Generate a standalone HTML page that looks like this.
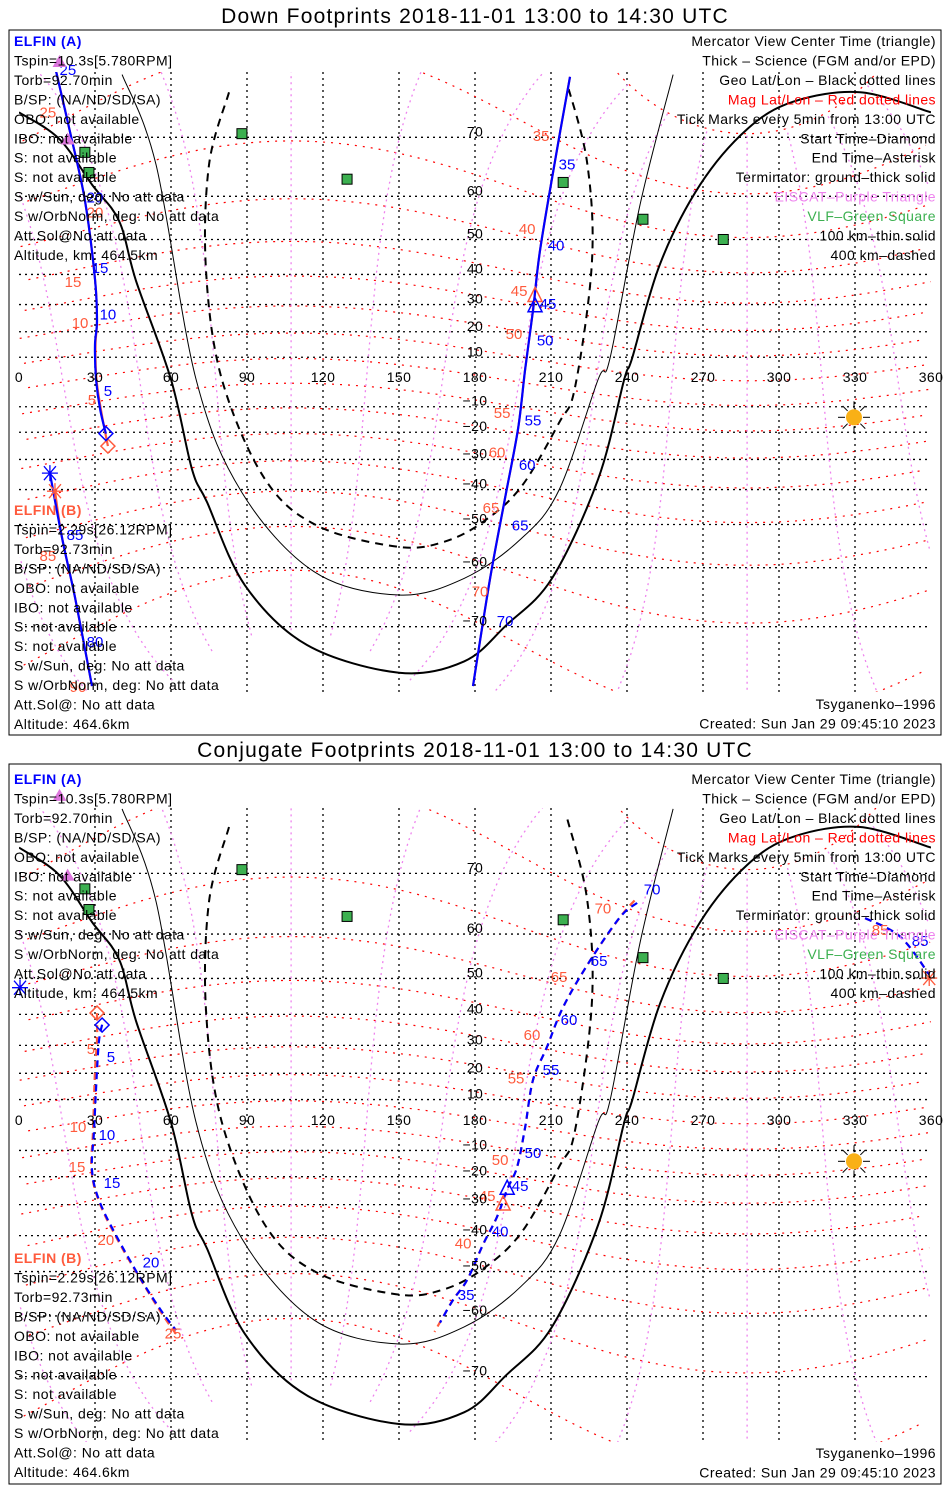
<!DOCTYPE html>
<html><head><meta charset="utf-8"><title>ELFIN Footprints</title>
<style>
html,body{margin:0;padding:0;background:#fff;}
svg{display:block;font-family:"Liberation Sans",sans-serif;}
.info{font-size:14px;letter-spacing:0.45px;}
</style></head>
<body>
<svg id="chart" width="950" height="1500" viewBox="0 0 950 1500" xmlns="http://www.w3.org/2000/svg">
<rect x="0" y="0" width="950" height="1500" fill="#fff"/>
<defs>
<clipPath id="clip0"><rect x="19" y="72" width="912" height="620"/></clipPath>
<clipPath id="clip1"><rect x="19" y="808" width="912" height="634"/></clipPath>
</defs>
<g id="panel0"></g>
<g id="panel1"></g>
</svg>
<script>
// ---------------- data (lon, lat in degrees) ----------------
const lonTicks = [0,30,60,90,120,150,180,210,240,270,300,330,360];
const latTicks = [70,60,50,40,30,20,10,-10,-20,-30,-40,-50,-60,-70];
const termThick = [[0,73.2],[15.8,69.8],[28.8,62.3],[39.5,54.6],[46.2,38],[60,1],[68.3,-33.4],[74.2,-43.8],[89.2,-63.4],[113.7,-72.4],[150,-75.5],[175.7,-74.3],[192.3,-69.8],[210.4,-62.1],[228.6,-36.7],[238.9,1],[242,9.6],[253.1,43.3],[268.9,62.3],[287.4,71.1],[305.6,74.4],[332,75.4],[360,73.2]];
const term100 = [[40.7,77.1],[54.1,65.8],[69.9,1],[88,-40.9],[116.5,-60.8],[150,-65.1],[175.7,-62.1],[198.2,-53.6],[213.2,-40.1],[228.6,1],[233.3,9.6],[245.2,58.4],[258.2,77.1]];
const term400 = [[82.9,75.4],[75,65.8],[73.8,41.3],[80.1,1],[97.1,-36.7],[118,-50.4],[150,-55.5],[167.8,-54.3],[183.2,-49.3],[198.2,-39.2],[213.2,-16.3],[219.5,-2],[226.2,44.1],[224.2,66.3],[216.3,76.3]];
const vlfStations = [[88,70.5],[26,67.8],[27.6,64.5],[129.5,63.3],[214.8,62.7],[246.3,55],[278,50]];
const eiscatSites = [[19.2,69.7],[16,78.2]];
const subsolar = [329.6,-14.2];

// Down footprints
const downA1 = [[14.2,77.8],[20.1,70.8],[26,59.2],[30,38.5],[30.8,24.2],[30,15.1],[30.4,1.2],[32,-10.9],[34.3,-20.5]];
const downA2 = [[217.5,76.9],[211.6,66.5],[205.7,47.2],[202.9,27.9],[199.8,5.3],[197,-18.6],[191.9,-42.5],[186,-62],[179.2,-76.8]];
const downA3 = [[28.8,-76.8],[22.1,-65.5],[17,-53.4],[12.2,-34.6]];
const downB1 = [[14,78],[20.1,70.8],[26,59.2],[30,38.5],[30.8,24.2],[30.2,15],[30.6,1],[32.5,-12],[35.1,-25.2]];
const downB2 = [[217.5,76.9],[211.6,66.5],[205.7,47.2],[202.9,27.9],[199.8,5.3],[197,-18.6],[191.9,-42.5],[186,-62],[179.2,-76.8]];
const downB3 = [[28.8,-76.8],[22.1,-65.5],[17,-53.4],[14.2,-40.5]];
const downLabelsA = [["25",19.3,77.5],["20",30,59.8],["15",32,42],["10",35.1,26.5],["5",35.1,-3.6],["35",216.3,65.9],["40",212,48.4],["45",208.8,30.2],["50",207.7,16.7],["55",202.9,-15.5],["60",200.6,-32],["65",197.8,-50.3],["70",191.9,-69.2],["80",30,-72],["85",22.1,-52.7]];
const downLabelsB = [["25",11.4,73.2],["20",30,56.5],["15",21.3,37.6],["10",24.1,23.3],["5",28.8,-7.2],["35",206.1,70.2],["40",200.6,52.7],["45",197.4,34.6],["50",195.4,19.2],["55",190.7,-12.4],["60",188.7,-27.5],["65",186.3,-45.5],["70",182,-64.5],["85",11.4,-57.5],["90",23.3,-76.9]];
const downMarkA = {start:[34.3,-20.5], end:[12.2,-34.7], center:[203.7,29.2]};
const downMarkB = {start:[35.1,-25.2], end:[14.2,-40.5], center:[203.7,32.8]};

// Conjugate footprints
const conjA1 = [[32.8,36.8],[31.6,31.8],[30.8,21.2],[29.6,-2.4],[28.8,-17.5],[31.6,-28.5],[38.3,-39.9],[48.6,-52.4],[56.5,-59.2],[62,-62.7]];
const conjA2 = [[244,65.6],[237.3,63.2],[225.4,54.3],[214.8,42.2],[208.4,29.4],[202.9,17.5],[199.8,-0.8],[196.6,-16.4],[192.7,-24.6],[188.7,-34.1],[183.2,-42.6],[176.9,-52.1],[171.3,-56.7],[166.2,-61.3]];
const conjA3 = [[334,63],[347.8,59.5],[359.3,51]];
const conjB1 = [[30.8,40.4],[30.8,31.8],[30,21],[29.2,-2.4],[28.6,-17.5],[31.4,-28.5],[38,-40],[48.4,-52.4],[57,-60],[63,-64]];
const conjB2 = [[243,66],[237.3,63.2],[225.4,54.3],[214.8,42.2],[208.4,29.4],[202.9,17.5],[199.8,-0.8],[196.6,-16.4],[192.7,-24.6],[188.7,-34.1],[183.2,-42.6],[176.9,-52.1],[171.3,-56.7],[164,-63]];
const conjB3 = [[334,63],[347.8,59.5],[359.3,51]];
const conjLabelsA = [["5",36.3,25.9],["10",34.7,-4],["15",36.7,-22.3],["20",52.1,-47.6],["35",176.5,-55.6],["40",189.9,-38.8],["45",197.8,-23.4],["50",202.9,-11],["55",210,21.2],["60",217.1,38.3],["65",229,54.2],["70",249.9,67.7],["85",355.7,58.6]];
const conjLabelsB = [["5",28.4,28.8],["10",23.3,-0.8],["15",22.9,-16.4],["20",34.3,-41.3],["25",60.8,-63.3],["40",175.3,-42.3],["45",184.8,-27],["50",189.9,-13.7],["55",196.2,18],["60",202.5,33.5],["65",213.2,50.4],["70",230.5,64.7],["85",339.9,60.8]];
const conjMarkA = {start:[32.8,36.7], end:[0.4,47.6], center:[192.7,-24.6]};
const conjMarkB = {start:[30.8,40.4], end:[359.3,50.1], center:[191.1,-30.1]};

const leftA = ["Tspin=10.3s[5.780RPM]","Torb=92.70min","B/SP: (NA/ND/SD/SA)","OBO: not available","IBO: not available","S: not available","S: not available","S w/Sun, deg: No att data","S w/OrbNorm, deg: No att data","Att.Sol@No att data","Altitude, km: 464.5km"];
const leftB = ["Tspin=2.29s[26.12RPM]","Torb=92.73min","B/SP: (NA/ND/SD/SA)","OBO: not available","IBO: not available","S: not available","S: not available","S w/Sun, deg: No att data","S w/OrbNorm, deg: No att data","Att.Sol@: No att data","Altitude: 464.6km"];
const legendLines = [["Mercator View Center Time (triangle)","#000"],["Thick \u2013 Science (FGM and/or EPD)","#000"],["Geo Lat/Lon \u2013 Black dotted lines","#000"],["Mag Lat/Lon \u2013 Red dotted lines","#ff0000"],["Tick Marks every 5min from 13:00 UTC","#000"],["Start Time\u2013Diamond","#000"],["End Time\u2013Asterisk","#000"],["Terminator: ground\u2013thick solid","#000"],["EISCAT\u2013Purple Triangle","#ee82ee"],["VLF\u2013Green Square","#3cb050"],["100 km\u2013thin solid","#000"],["400 km\u2013dashed","#000"]];

// ---------------- rendering ----------------
const NS = "http://www.w3.org/2000/svg";
const BLUE = "#0000ff", RED = "#ff5a3c";
function mk(tag, attrs, parent){ const e=document.createElementNS(NS,tag); for(const k in attrs) e.setAttribute(k,attrs[k]); parent.appendChild(e); return e; }

const panelCfg = [
  {g:"panel0", title:"Down Footprints 2018-11-01 13:00 to 14:30 UTC", titleY:23, eq:382, R:141, top:72, bot:692, clip:"clip0", box:[9,30,932,705], textTop:41, bTop:510, bottomY:704,
   tracks:[[downB1,RED,false],[downB2,RED,false],[downB3,RED,false],[downA1,BLUE,false],[downA2,BLUE,false],[downA3,BLUE,false]], labA:downLabelsA, labB:downLabelsB, mA:downMarkA, mB:downMarkB},
  {g:"panel1", title:"Conjugate Footprints 2018-11-01 13:00 to 14:30 UTC", titleY:757, eq:1125, R:145, top:808, bot:1442, clip:"clip1", box:[9,764,932,720], textTop:779, bTop:1258, bottomY:1453,
   tracks:[[conjB1,RED,true],[conjB2,RED,true],[conjB3,RED,true],[conjA1,BLUE,true],[conjA2,BLUE,true],[conjA3,BLUE,true]], labA:conjLabelsA, labB:conjLabelsB, mA:conjMarkA, mB:conjMarkB}
];

function magToGeo(mlat, mlon){
  const pg=287.4*Math.PI/180;
  const a=(90-80.5)*Math.PI/180;
  const la=mlat*Math.PI/180, lo=mlon*Math.PI/180;
  let x=Math.cos(la)*Math.cos(lo), y=Math.cos(la)*Math.sin(lo), z=Math.sin(la);
  let x1=x*Math.cos(a)+z*Math.sin(a), z1=-x*Math.sin(a)+z*Math.cos(a), y1=y;
  let x2=x1*Math.cos(pg)-y1*Math.sin(pg), y2=x1*Math.sin(pg)+y1*Math.cos(pg);
  let lon=Math.atan2(y2,x2)*180/Math.PI; if(lon<0) lon+=360;
  return [lon, Math.asin(Math.max(-1,Math.min(1,z1)))*180/Math.PI];
}

panelCfg.forEach((P)=>{
  const G=document.getElementById(P.g);
  const X=lon=>19+lon*912/360;
  const Y=lat=>{const r=Math.max(-84,Math.min(84,lat))*Math.PI/180; return P.eq-P.R*Math.log(Math.tan(Math.PI/4+r/2));};
  const segments=(pts)=>{let segs=[],cur=[];let prev=null;pts.forEach(p=>{if(prev&&Math.abs(p[0]-prev[0])>180){segs.push(cur);cur=[];}cur.push(p);prev=p;});segs.push(cur);return segs.filter(s=>s.length>1);};
  const pathStr=(pts)=>segments(pts).map(s=>"M"+s.map(p=>X(p[0]).toFixed(1)+","+Y(p[1]).toFixed(1)).join(" L")).join(" ");
  const smoothStr=(pts)=>segments(pts).map(s=>{
    const q=s.map(p=>[X(p[0]),Y(p[1])]);
    let d="M"+q[0][0].toFixed(1)+","+q[0][1].toFixed(1);
    for(let i=0;i<q.length-1;i++){
      const p0=q[Math.max(0,i-1)],p1=q[i],p2=q[i+1],p3=q[Math.min(q.length-1,i+2)];
      const c1=[p1[0]+(p2[0]-p0[0])/6,p1[1]+(p2[1]-p0[1])/6], c2=[p2[0]-(p3[0]-p1[0])/6,p2[1]-(p3[1]-p1[1])/6];
      d+=` C${c1[0].toFixed(1)},${c1[1].toFixed(1)} ${c2[0].toFixed(1)},${c2[1].toFixed(1)} ${p2[0].toFixed(1)},${p2[1].toFixed(1)}`;
    }
    return d;}).join(" ");

  const title=mk("text",{x:475,y:P.titleY,"text-anchor":"middle","font-size":"21","letter-spacing":"1.2",fill:"#000"},G);
  title.textContent=P.title;
  
  
  const box=mk("rect",{x:P.box[0],y:P.box[1],width:P.box[2],height:P.box[3],fill:"none",stroke:"#000","stroke-width":"1"},G);
  
  

  const M=mk("g",{"clip-path":"url(#"+P.clip+")"},G);
  
  

  latTicks.forEach(lat=>{
    const l=mk("line",{x1:19,x2:931,y1:Y(lat),y2:Y(lat),stroke:"#000","stroke-width":"1.3","stroke-dasharray":"2 4"},M);
    
    
  });
  lonTicks.slice(1,12).forEach(lon=>{
    const l=mk("line",{x1:X(lon),x2:X(lon),y1:P.top,y2:P.bot,stroke:"#000","stroke-width":"1.3","stroke-dasharray":"2 4"},M);
    
    
  });
  for(let ml=-70; ml<=80; ml+=10){
    const pts=[]; for(let mo=0; mo<=360; mo+=4) pts.push(magToGeo(ml,mo));
    pts.sort((a,b)=>a[0]-b[0]);
    const p=mk("path",{d:pathStr(pts),fill:"none",stroke:"#ff0000","stroke-width":"1.2","stroke-dasharray":"2 6"},M);
    
    
  }
  for(let mo=0; mo<360; mo+=30){
    const pts=[]; for(let ml=-80; ml<=80; ml+=2) pts.push(magToGeo(ml,mo));
    const p=mk("path",{d:pathStr(pts),fill:"none",stroke:"#ee82ee","stroke-width":"1.3","stroke-dasharray":"2 4"},M);
    
    
  }
  [[termThick,"2","none","terminator-ground"],[term100,"1","none","terminator-100km"],[term400,"2","8 6","terminator-400km"]].forEach(t=>{
    const p=mk("path",{d:smoothStr(t[0]),fill:"none",stroke:"#000","stroke-width":t[1],"stroke-dasharray":t[2]},M);
    
    
  });
  vlfStations.forEach(s=>{
    const r=mk("rect",{x:X(s[0])-5,y:Y(s[1])-5,width:10,height:10,fill:"#3cb050",stroke:"#000","stroke-width":"1"},G);
    
    
  });
  const sx=X(subsolar[0]), sy=Y(subsolar[1]);
  for(let k=0;k<8;k++){const a=k*Math.PI/4; const ray=mk("line",{x1:sx+9*Math.cos(a),y1:sy+9*Math.sin(a),x2:sx+16*Math.cos(a),y2:sy+16*Math.sin(a),stroke:"#000","stroke-width":"1"},G);
    
    }
  const sun=mk("circle",{cx:sx,cy:sy,r:8,fill:"#f9b016"},G);
  
  
  P.tracks.forEach(t=>{
    const p=mk("path",{d:smoothStr(t[0]),fill:"none",stroke:t[1],"stroke-width":"2.2","stroke-dasharray":t[2]?"7 5":"none"},M);
    
    
  });
  [[P.labB,RED,'elfin-b-tick-label'],[P.labA,BLUE,'elfin-a-tick-label']].forEach(L=>{
    L[0].forEach(l=>{
      const t=mk("text",{x:X(l[1]),y:Y(l[2])+5,"text-anchor":"middle","font-size":"15",fill:L[1]},G);
      t.textContent=l[0];
      
      
    });
  });
  [[P.mB,RED,'elfin-b'],[P.mA,BLUE,'elfin-a']].forEach(m=>{
    const c=m[1], o=m[0];
    let x=X(o.start[0]), y=Y(o.start[1]);
    const d=mk("path",{d:`M${x},${y-7} L${x+7},${y} L${x},${y+7} L${x-7},${y} Z`,fill:"none",stroke:c,"stroke-width":"1.5"},G);
    
    
    x=X(o.end[0]); y=Y(o.end[1]);
    const a=mk("path",{d:`M${x-8},${y} L${x+8},${y} M${x-6},${y-7} L${x+6},${y+7} M${x-6},${y+7} L${x+6},${y-7} M${x},${y-8} L${x},${y+8}`,fill:"none",stroke:c,"stroke-width":"1.3"},G);
    
    
    x=X(o.center[0]); y=Y(o.center[1]);
    const tr=mk("path",{d:`M${x},${y-9} L${x+7},${y+5} L${x-7},${y+5} Z`,fill:"none",stroke:c,"stroke-width":"1.5"},G);
    
    
  });
  eiscatSites.forEach(s=>{
    const x=X(s[0]), y=Y(s[1]);
    const tr=mk("path",{d:`M${x},${y-7} L${x+7},${y+5} L${x-7},${y+5} Z`,fill:"#dd77dd"},G);
    
    
  });
  lonTicks.forEach(lon=>{
    const t=mk("text",{x:X(lon),y:P.eq,"text-anchor":"middle","font-size":"14","letter-spacing":"0.4",fill:"#000"},G);
    t.textContent=String(lon);
    
    
  });
  latTicks.forEach(lat=>{
    const t=mk("text",{x:X(180),y:Y(lat)-1,"text-anchor":"middle","font-size":"14","letter-spacing":"0.4",fill:"#000"},G);
    t.textContent=(lat<0?"\u2212":"")+Math.abs(lat);
    
    
  });
  const sp=19.45;
  const ha=mk("text",{x:14,y:P.textTop+5,class:"info","font-weight":"bold",fill:BLUE},G);
  ha.textContent="ELFIN (A)";
  
  
  leftA.forEach((s,i)=>{const t=mk("text",{x:14,y:P.textTop+5+sp*(i+1),class:"info",fill:"#000"},G);t.textContent=s;
    
    });
  const hb=mk("text",{x:14,y:P.bTop+5,class:"info","font-weight":"bold",fill:RED},G);
  hb.textContent="ELFIN (B)";
  
  
  leftB.forEach((s,i)=>{const t=mk("text",{x:14,y:P.bTop+5+sp*(i+1),class:"info",fill:"#000"},G);t.textContent=s;
    
    });
  legendLines.forEach((s,i)=>{const t=mk("text",{x:936,y:P.textTop+5+sp*i,"text-anchor":"end",class:"info",fill:s[1]},G);t.textContent=s[0];
    
    });
  const ts=mk("text",{x:936,y:P.bottomY+5,"text-anchor":"end",class:"info",fill:"#000"},G);
  ts.textContent="Tsyganenko\u20131996";
  
  
  const cr=mk("text",{x:936,y:P.bottomY+5+sp,"text-anchor":"end",class:"info",fill:"#000"},G);
  cr.textContent="Created: Sun Jan 29 09:45:10 2023";
  
  
});
</script>
</body></html>
